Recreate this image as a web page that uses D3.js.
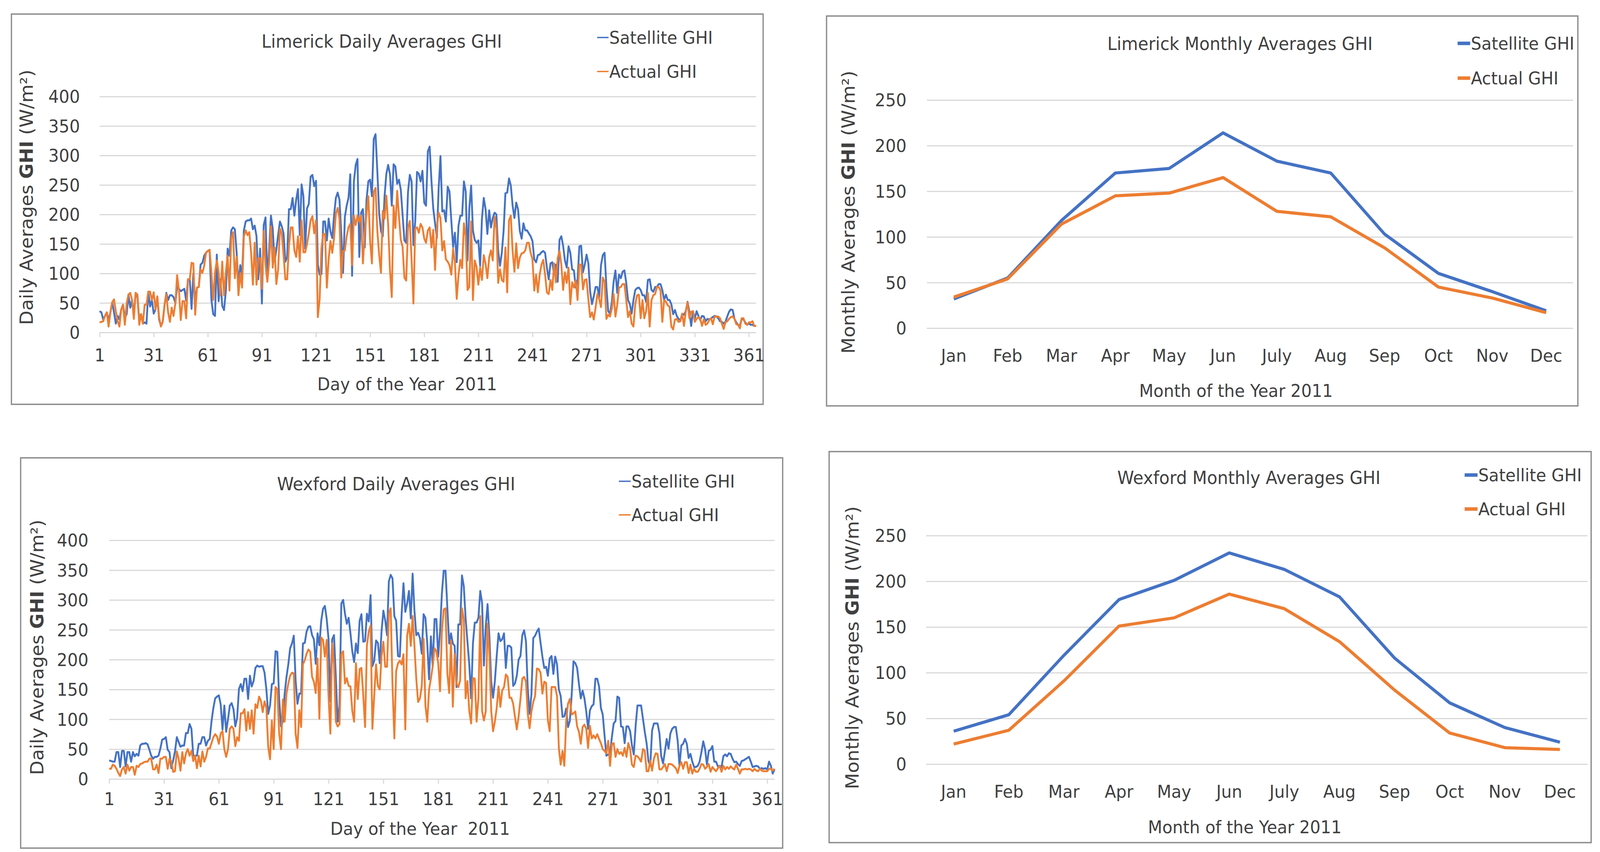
<!DOCTYPE html>
<html>
<head>
<meta charset="utf-8">
<script src="https://cdn.jsdelivr.net/npm/d3@7/dist/d3.min.js"></script>
<style>
  html, body { margin: 0; padding: 0; background: #ffffff; width: 100%; height: 100%; overflow: hidden; }
  svg { display: block; width: 100vw; height: 100vh; }
  text { font-family: "DejaVu Sans", Verdana, sans-serif; fill: #404040; white-space: pre; }
</style>
</head>
<body>
<svg id="chart" viewBox="0 0 4338 2181" preserveAspectRatio="none"></svg>
<script>
// ---------------- DATA ----------------
const seriesNames = ["Satellite GHI", "Actual GHI"];
const dayTicks = [1, 31, 61, 91, 121, 151, 181, 211, 241, 271, 301, 331, 361];
const dailyYTicks = [0, 50, 100, 150, 200, 250, 300, 350, 400];
const monthlyYTicks = [0, 50, 100, 150, 200, 250];
const months = ["Jan", "Feb", "Mar", "Apr", "May", "Jun", "July", "Aug", "Sep", "Oct", "Nov", "Dec"];

// Limerick daily (days 1..365)
const limerickDailySatellite = [
  36,34,22,28,34,20,34,51,34,15, 28,22,39,47,25,31,64,42,55,30, 67,60,20,31,15,17,15,69,44,55,
  32,39,61,22,11,18,46,67,55,63, 63,60,50,77,74,70,72,74,54,90, 90,40,100,52,76,77,115,118,130,135,
  138,140,55,31,28,132,53,90,45,38, 70,142,130,173,178,175,135,80,114,95, 173,188,190,190,193,175,181,163,90,142,
  49,182,195,90,140,198,176,120,140,165, 188,180,168,120,128,209,209,228,198,225, 243,165,251,231,142,210,218,264,267,248, 257,
  115,98,99,188,188,156,193,171,160,198, 228,237,225,168,101,196,215,228,268,96, 256,284,294,128,203,209,144,225,256,
  259,231,328,336,273,203,172,163,231,269, 284,268,215,285,281,252,259,242,199,156, 152,238,267,256,148,188,272,269,256,274,
  220,215,307,315,257,210,185,160,245,299, 205,207,188,247,239,190,145,169,119,181, 198,198,256,239,122,211,249,173,157,152,
  156,113,193,228,209,167,207,178,194,203, 200,138,113,135,172,236,237,261,249,215, 194,220,209,172,159,185,173,173,168,163, 155,124,119,131,
  132,136,138,135,110,90,117,119,98,115, 86,157,163,147,122,110,146,135,107,105, 76,89,146,147,102,115,132,117,69,48, 61,
  77,77,60,114,131,135,77,36,32,51, 86,105,67,98,92,103,105,84,55,48, 32,55,72,75,76,72,63,63,52,89,
  90,72,69,77,77,82,82,72,55,64, 55,55,48,31,38,28,23,21,31,30, 36,52,35,11,36,23,36,28,21,28,
  27,19,23,22,24,26,28,27,24,19, 18,15,18,27,35,39,38,23,17,13, 11,23,22,17,13,15,13,13,11,11
];
const limerickDailyActual = [
  17,18,19,28,34,10,34,51,56,36, 19,10,39,47,13,49,64,67,55,23, 67,64,13,31,15,47,47,69,69,55,
  68,39,61,26,10,18,46,65,34,18, 42,28,49,97,72,21,53,53,24,90, 90,118,117,30,76,77,107,101,113,135,
  138,140,102,55,102,122,102,63,120,63, 102,130,71,160,170,92,128,63,101,76, 163,173,165,170,136,81,152,81,126,126,
  74,172,115,86,118,180,110,144,82,107, 176,167,131,90,90,147,178,178,139,128, 163,120,190,136,136,150,168,190,197,168, 190,
  26,56,142,167,167,76,124,155,135,160, 201,211,193,93,138,139,163,178,184,114, 198,182,198,188,198,117,168,202,231,
  155,117,238,245,172,132,101,206,193,232, 182,106,60,215,177,240,196,157,145,93, 88,178,189,122,49,176,178,169,184,178,
  159,152,173,178,144,174,106,178,203,194, 139,155,124,120,114,98,142,119,57,97, 123,109,185,163,72,77,188,55,122,111,
  81,110,89,131,117,92,127,139,122,196, 176,84,107,89,86,144,68,190,198,138, 103,151,109,127,134,135,139,152,152,135, 124,71,98,68,
  98,115,123,98,68,65,89,72,117,85, 126,138,115,72,102,84,110,48,85,76, 88,55,115,115,73,89,90,56,26,34, 22,
  42,65,57,43,93,86,23,30,27,40, 65,27,47,76,77,82,82,55,26,36, 15,10,48,63,64,24,55,24,36,67,
  10,55,63,65,77,77,71,18,55,52, 46,44,10,5,22,23,18,19,32,11, 35,51,24,35,36,18,23,26,24,11,
  22,13,15,21,24,14,27,27,27,24, 15,6,17,19,23,26,27,23,14,13, 7,24,24,15,13,17,17,19,11,11
];

// Wexford daily (days 1..365)
const wexfordDailySatellite = [
  31,30,29,29,45,45,20,47,47,21, 45,45,29,45,38,42,39,56,59,59, 60,58,49,39,34,37,37,39,51,66,
  67,70,49,45,18,31,46,70,62,54, 56,56,77,77,92,84,39,39,39,59, 59,70,70,56,64,67,97,119,135,138,
  140,125,83,123,79,100,123,127,117,88, 102,151,159,147,168,168,134,173,155,164, 186,190,188,189,189,178,150,109,123,159,
  160,214,213,134,88,96,143,171,192,219, 227,240,165,126,143,143,227,228,247,255, 256,241,234,193,244,224,265,285,290,268, 235,
  130,234,241,171,96,123,294,300,277,260, 270,244,214,196,227,211,265,276,230,231, 277,264,308,189,198,232,228,194,247,
  282,266,241,331,342,336,273,265,206,205, 277,328,280,294,315,269,344,282,241,245, 236,210,276,270,228,167,239,189,268,268,
  205,247,310,349,349,287,227,244,227,223, 154,259,259,341,323,269,230,192,135,227, 262,262,270,315,295,190,255,293,239,163,
  136,164,206,244,231,234,244,186,223,223, 220,156,160,173,200,206,241,249,231,151, 109,142,236,240,247,252,228,205,186,188, 173,202,206,176,
  205,192,150,139,104,105,118,87,97,140, 197,194,186,159,135,148,135,113,84,115, 122,125,168,168,155,119,108,73,39,41, 42,
  70,93,97,138,136,88,87,60,88,88, 80,56,41,89,123,123,123,101,79,60, 30,22,81,93,93,93,77,38,26,46,
  67,51,76,84,87,87,64,22,56,59, 67,59,35,42,29,20,20,22,29,45, 63,50,24,47,49,55,29,29,21,22,
  20,38,41,38,43,42,34,28,29,25, 22,30,31,33,35,37,29,20,21,22, 21,17,18,17,18,16,29,22,9,16
];
const wexfordDailyActual = [
  17,17,24,22,17,10,5,16,20,9, 24,14,20,20,7,22,20,25,26,28, 29,29,34,34,16,16,24,10,34,34,
  37,37,17,34,29,12,13,46,34,14, 45,26,43,50,39,47,30,39,18,39, 21,46,29,37,51,51,60,70,75,71,
  59,76,80,50,37,50,84,88,84,55, 70,64,110,110,117,81,112,84,115,76, 125,119,138,131,112,130,119,54,33,98,
  50,154,150,76,50,133,96,143,160,173, 178,177,76,52,115,87,192,199,210,217, 213,171,163,144,202,101,237,233,205,233, 139,
  76,227,192,96,88,92,209,214,160,169, 156,155,114,96,194,134,184,186,140,87, 224,247,257,84,140,192,156,150,206,
  230,188,188,277,286,157,68,181,194,198, 192,209,83,240,260,223,273,223,168,129, 135,155,235,123,96,150,168,189,219,214,
  194,147,247,284,286,177,144,232,121,209, 160,154,165,286,268,135,164,114,93,169, 168,96,135,273,114,98,113,260,209,114,
  80,96,119,155,121,148,154,175,171,136, 136,126,104,83,105,134,168,171,163,109, 85,113,129,139,185,184,178,143,163,161, 98,80,154,154,
  154,139,52,24,47,22,96,126,134,108, 110,113,88,79,59,87,91,84,52,89, 68,73,68,75,67,60,50,47,43,64, 22,
  58,60,37,50,42,45,39,52,37,60, 50,24,20,39,38,34,29,50,47,13, 13,31,14,34,43,42,16,16,20,25,
  13,25,25,24,21,18,10,22,28,17, 28,28,10,24,9,17,12,12,17,25, 24,17,20,25,12,20,16,13,18,22,
  12,22,16,20,17,21,18,16,24,17, 9,16,16,17,16,17,16,13,17,14, 13,17,14,13,13,13,17,17,14,17
];

// Monthly averages
const limerickMonthlySatellite = [32, 55, 118, 170, 175, 214, 183, 170, 103, 60, 40, 19];
const limerickMonthlyActual    = [34, 54, 114, 145, 148, 165, 128, 122, 88, 45, 33, 17];
const wexfordMonthlySatellite  = [36, 54, 119, 180, 201, 231, 213, 183, 116, 67, 40, 24];
const wexfordMonthlyActual     = [22, 37, 91, 151, 160, 186, 170, 134, 81, 34, 18, 16];

// ---------------- STYLE ----------------
const COLORS = { sat: "#4472C4", act: "#ED7D31" };
const GRID = "#D9D9D9";
const FRAME = "#8C8C8C";
const FS = 45;

const svg = d3.select("#chart");

function yTitle(g, cx, cy, prefix) {
  const t = g.append("text")
    .attr("transform", `translate(${cx},${cy}) rotate(-90)`)
    .attr("text-anchor", "middle")
    .attr("dominant-baseline", "central")
    .style("font-size", "48px");
  t.append("tspan").text(prefix + " ");
  t.append("tspan").style("font-weight", "bold").text("GHI");
  t.append("tspan").text(" (W/m\u00B2)");
}

function drawPanel(cfg) {
  const g = svg.append("g");
  g.append("rect")
    .attr("x", cfg.frame[0]).attr("y", cfg.frame[1])
    .attr("width", cfg.frame[2] - cfg.frame[0]).attr("height", cfg.frame[3] - cfg.frame[1])
    .attr("fill", "#fff").attr("stroke", FRAME).attr("stroke-width", 3.5);

  const y = d3.scaleLinear().domain([0, cfg.yMax]).range([cfg.plotY0, cfg.plotYTop]);
  let xPos, x;
  if (cfg.type === "daily") {
    x = d3.scaleLinear().domain([1, 365]).range([cfg.plotX0, cfg.plotX1]);
    xPos = (d, i) => x(i + 1);
  } else {
    x = d3.scaleBand().domain(months).range([cfg.plotX0, cfg.plotX1]).padding(0);
    xPos = (d, i) => x(months[i]) + x.bandwidth() / 2;
  }
  const plotW = cfg.plotX1 - cfg.plotX0;

  const yAxis = d3.axisLeft(y).tickValues(cfg.yTicks).tickSize(-plotW).tickPadding(cfg.yPad).tickFormat(d3.format("d"));
  const ya = g.append("g").attr("transform", `translate(${cfg.plotX0},0)`).call(yAxis);
  ya.select(".domain").remove();
  ya.selectAll(".tick line").attr("stroke", GRID).attr("stroke-width", 3);
  ya.selectAll(".tick text").attr("dy", null).attr("dominant-baseline", "central")
    .style("font-size", FS + "px").style("font-family", "DejaVu Sans").attr("fill", "#404040");

  let xAxis;
  if (cfg.type === "daily") {
    xAxis = d3.axisBottom(x).tickValues(dayTicks).tickSize(12).tickFormat(d3.format("d"));
  } else {
    xAxis = d3.axisBottom(x).tickSize(0);
  }
  const xa = g.append("g").attr("transform", `translate(0,${cfg.plotY0})`).call(xAxis);
  xa.select(".domain").remove();
  xa.selectAll(".tick line").attr("stroke", GRID).attr("stroke-width", 3);
  xa.selectAll(".tick text").attr("y", cfg.xLabelY - cfg.plotY0).attr("dy", null)
    .attr("dominant-baseline", "central")
    .style("font-size", FS + "px").style("font-family", "DejaVu Sans").attr("fill", "#404040");

  const line = d3.line().x(xPos).y(d => y(d)).curve(d3.curveLinear);
  [[cfg.sat, COLORS.sat], [cfg.act, COLORS.act]].forEach(([data, col]) => {
    g.append("path").datum(data)
      .attr("fill", "none").attr("stroke", col)
      .attr("stroke-width", cfg.lineW).attr("stroke-linejoin", "round")
      .attr("d", line);
  });

  g.append("text").attr("x", cfg.title[0]).attr("y", cfg.title[1])
    .attr("text-anchor", "middle").attr("dominant-baseline", "central")
    .style("font-size", "46px").text(cfg.titleText);

  [[seriesNames[0], COLORS.sat, cfg.legend[1]], [seriesNames[1], COLORS.act, cfg.legend[2]]].forEach(([name, col, ly]) => {
    g.append("line").attr("x1", cfg.legend[0]).attr("x2", cfg.legend[0] + cfg.legendLen)
      .attr("y1", ly).attr("y2", ly).attr("stroke", col).attr("stroke-width", cfg.legendW);
    g.append("text").attr("x", cfg.legend[0] + cfg.legendLen + 2).attr("y", ly)
      .attr("dominant-baseline", "central").style("font-size", FS + "px").text(name);
  });

  g.append("text").attr("x", cfg.xTitle[0]).attr("y", cfg.xTitle[1])
    .attr("text-anchor", "middle").attr("dominant-baseline", "central")
    .attr("xml:space", "preserve")
    .style("font-size", FS + "px").text(cfg.xTitleText);
  yTitle(g, cfg.yTitle[0], cfg.yTitle[1], cfg.yTitlePrefix);
}

drawPanel({
  type: "daily", sat: limerickDailySatellite, act: limerickDailyActual,
  frame: [31, 36, 2069, 1035], plotX0: 270, plotX1: 2050, plotY0: 851, plotYTop: 247,
  yMax: 400, yTicks: dailyYTicks, yPad: 53, xLabelY: 909, lineW: 5,
  title: [1035, 106], titleText: "Limerick Daily Averages GHI",
  legend: [1619, 96, 183], legendLen: 31, legendW: 3.5,
  xTitle: [1104, 983], xTitleText: "Day of the Year  2011",
  yTitle: [73, 505], yTitlePrefix: "Daily Averages"
});

drawPanel({
  type: "daily", sat: wexfordDailySatellite, act: wexfordDailyActual,
  frame: [56, 1172, 2122, 2171], plotX0: 296, plotX1: 2100, plotY0: 1994, plotYTop: 1383,
  yMax: 400, yTicks: dailyYTicks, yPad: 56, xLabelY: 2045, lineW: 5,
  title: [1074, 1239], titleText: "Wexford Daily Averages GHI",
  legend: [1678, 1232, 1318], legendLen: 32, legendW: 3.5,
  xTitle: [1139, 2121], xTitleText: "Day of the Year  2011",
  yTitle: [101, 1657], yTitlePrefix: "Daily Averages"
});

drawPanel({
  type: "monthly", sat: limerickMonthlySatellite, act: limerickMonthlyActual,
  frame: [2241, 41, 4278, 1039], plotX0: 2513, plotX1: 4265, plotY0: 840, plotYTop: 256,
  yMax: 250, yTicks: monthlyYTicks, yPad: 55, xLabelY: 910, lineW: 8,
  title: [3362, 112], titleText: "Limerick Monthly Averages GHI",
  legend: [3952, 111, 200], legendLen: 34, legendW: 9,
  xTitle: [3351, 1000], xTitleText: "Month of the Year 2011",
  yTitle: [2301, 543], yTitlePrefix: "Monthly Averages"
});

drawPanel({
  type: "monthly", sat: wexfordMonthlySatellite, act: wexfordMonthlyActual,
  frame: [2248, 1156, 4314, 2157], plotX0: 2511, plotX1: 4304, plotY0: 1956, plotYTop: 1371,
  yMax: 250, yTicks: monthlyYTicks, yPad: 53, xLabelY: 2026, lineW: 8,
  title: [3386, 1223], titleText: "Wexford Monthly Averages GHI",
  legend: [3971, 1216, 1303], legendLen: 35, legendW: 9,
  xTitle: [3375, 2117], xTitleText: "Month of the Year 2011",
  yTitle: [2311, 1658], yTitlePrefix: "Monthly Averages"
});
</script>
</body>
</html>
